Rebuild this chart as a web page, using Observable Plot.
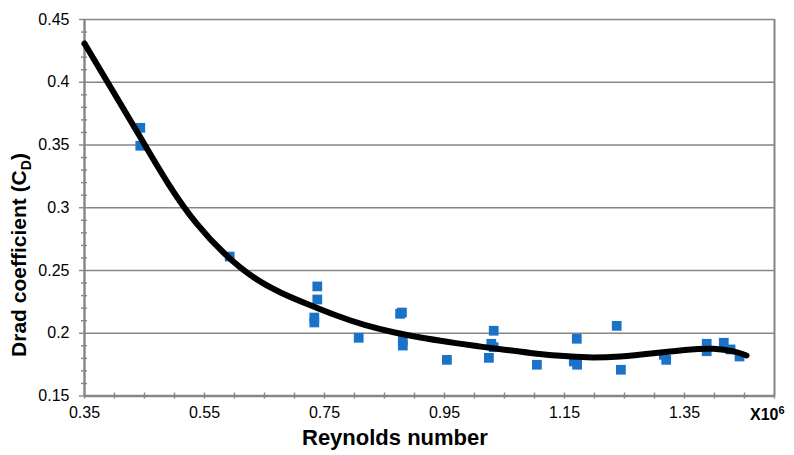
<!DOCTYPE html>
<html>
<head>
<meta charset="utf-8">
<script src="https://cdn.jsdelivr.net/npm/d3@7"></script>
<script src="https://cdn.jsdelivr.net/npm/@observablehq/plot@0.6"></script>
<style>
  html, body { margin: 0; padding: 0; background: #fff; }
  #chart svg { display: block; }
</style>
</head>
<body>
<div id="chart"></div>
<script>
// Measured data points (Reynolds number ×10^6, drag coefficient)
const reynolds = [0.443, 0.443, 0.592, 0.738, 0.738, 0.733, 0.733, 0.807, 0.876, 0.879,
                  0.8805, 0.8805, 0.954, 1.032, 1.028, 1.032, 1.024, 1.104, 1.1705, 1.1655,
                  1.171, 1.237, 1.244, 1.3155, 1.3195, 1.387, 1.387, 1.4155, 1.4267, 1.4417];
const dragCoef = [0.3637, 0.3494, 0.2611, 0.2373, 0.2269, 0.2125, 0.2086, 0.1964, 0.2155, 0.2165,
                  0.1942, 0.1902, 0.1788, 0.2020, 0.1916, 0.1889, 0.1804, 0.1749, 0.1956, 0.1775,
                  0.1749, 0.2059, 0.1709, 0.1828, 0.1788, 0.1916, 0.1857, 0.1924, 0.1871, 0.1815];

// Trend curve
const fitRe = [0.35, 0.3967, 0.4433, 0.49, 0.5367, 0.5833, 0.63, 0.6767, 0.7233, 0.77,
               0.8167, 0.8633, 0.91, 0.9567, 1.0033, 1.05, 1.0933, 1.1433, 1.1883, 1.2433,
               1.2983, 1.355, 1.3983, 1.4317, 1.4533];
const fitCd = [0.4309, 0.3934, 0.3560, 0.3189, 0.2875, 0.2635, 0.2452, 0.2325, 0.2229, 0.2141,
               0.2066, 0.2010, 0.1966, 0.1930, 0.1898, 0.1869, 0.1843, 0.1820, 0.1808, 0.1815,
               0.1840, 0.1869, 0.1876, 0.1855, 0.1823];

// Axes
const xDomain = [0.35, 1.5];
const yDomain = [0.15, 0.45];
const xTicks = [0.35, 0.55, 0.75, 0.95, 1.15, 1.35];
const xMinor = [0.35, 0.4, 0.45, 0.5, 0.55, 0.6, 0.65, 0.7, 0.75, 0.8, 0.85, 0.9, 0.95, 1.0,
                1.05, 1.1, 1.15, 1.2, 1.25, 1.3, 1.35, 1.4, 1.45, 1.5];
const yTicks = [0.15, 0.2, 0.25, 0.3, 0.35, 0.4, 0.45];
const yMinor = [0.16, 0.17, 0.18, 0.19, 0.21, 0.22, 0.23, 0.24, 0.26, 0.27, 0.28, 0.29,
                0.31, 0.32, 0.33, 0.34, 0.36, 0.37, 0.38, 0.39, 0.41, 0.42, 0.43, 0.44];

const xLabel = "Reynolds number";
const yLabelMain = "Drad coefficient (C";
const yLabelSub = "D";
const yLabelEnd = ")";

const points = reynolds.map((x, i) => ({x, y: dragCoef[i]}));
const fit = fitRe.map((x, i) => ({x, y: fitCd[i]}));
const fmt = d => String(+d.toFixed(2));
const grey = "#868686";
const font = "'Liberation Sans', Arial, sans-serif";

const chart = Plot.plot({
  width: 794,
  height: 455,
  marginLeft: 84,
  marginRight: 20,
  marginTop: 19,
  marginBottom: 59.5,
  style: {fontFamily: font, fontSize: "16px", background: "#fff", color: "#000"},
  x: {domain: xDomain, axis: null},
  y: {domain: yDomain, axis: null},
  marks: [
    Plot.ruleY(yTicks.slice(1), {stroke: grey, strokeWidth: 1.4}),
    Plot.ruleX([xDomain[1]], {stroke: grey, strokeWidth: 2}),
    // minor ticks (crossing the axis line)
    Plot.axisY({ticks: yMinor, tickSize: 6, dx: 3, tickFormat: () => "", label: null, stroke: grey, strokeWidth: 1.4}),
    Plot.axisX({ticks: xMinor, tickSize: 6, dy: -3, tickFormat: () => "", label: null, stroke: grey, strokeWidth: 1.4}),
    // major y ticks
    Plot.axisY({ticks: yTicks, tickSize: 5, tickFormat: () => "", label: null, stroke: grey, strokeWidth: 1.4}),
    // tick labels
    Plot.axisY({ticks: yTicks, tickSize: 0, tickPadding: 15, tickFormat: fmt, label: null, fontSize: 16, fill: "#000"}),
    Plot.axisX({ticks: xTicks, tickSize: 0, tickPadding: 11, tickFormat: fmt, label: null, fontSize: 16, fill: "#000"}),
    // axis lines
    Plot.ruleX([xDomain[0]], {stroke: grey, strokeWidth: 2.4}),
    Plot.ruleY([yDomain[0]], {stroke: grey, strokeWidth: 2.4}),
    Plot.dot(points, {x: "x", y: "y", symbol: "square", r: 5.5, fill: "#1a73c8", stroke: null}),
    Plot.line(fit, {x: "x", y: "y", stroke: "#000", strokeWidth: 6, curve: "natural", strokeLinecap: "round"})
  ]
});

document.getElementById("chart").appendChild(chart);

const svg = d3.select(chart);
// x-axis title
svg.append("text")
  .attr("x", 302).attr("y", 445)
  .attr("text-anchor", "start")
  .attr("font-family", font)
  .attr("font-size", 22).attr("font-weight", "bold").attr("fill", "#000")
  .text(xLabel);
// X10^6 multiplier
const mult = svg.append("text")
  .attr("x", 750).attr("y", 420)
  .attr("text-anchor", "start")
  .attr("font-family", font)
  .attr("font-size", 16).attr("font-weight", "bold").attr("fill", "#000");
mult.append("tspan").text("X10");
mult.append("tspan").attr("font-size", 11).attr("dy", -6).text("6");
// y-axis title
const yl = svg.append("text")
  .attr("transform", "translate(26,255) rotate(-90)")
  .attr("text-anchor", "middle")
  .attr("font-family", font)
  .attr("font-size", 21).attr("font-weight", "bold").attr("fill", "#000");
yl.append("tspan").text(yLabelMain);
yl.append("tspan").attr("font-size", 14).attr("dy", 5).text(yLabelSub);
yl.append("tspan").attr("dy", -5).text(yLabelEnd);
</script>
</body>
</html>
